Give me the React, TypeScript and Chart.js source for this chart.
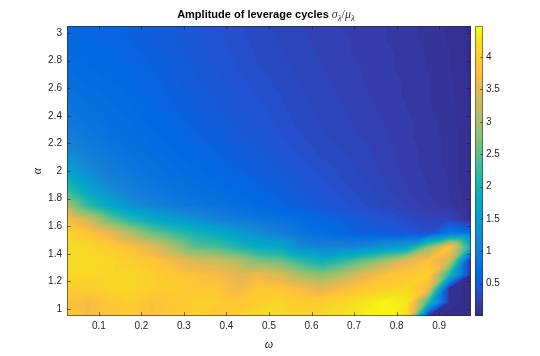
import React, { useEffect, useRef } from "react";
import { Chart, registerables } from "chart.js";
Chart.register(...registerables);

// ω grid (columns)
const OMEGA = [0.025, 0.075, 0.125, 0.175, 0.225, 0.275, 0.325, 0.375, 0.425, 0.475,
  0.525, 0.575, 0.625, 0.675, 0.725, 0.775, 0.825, 0.875, 0.925, 0.975];
// α grid (rows, ascending)
const ALPHA = [0.95, 1.05, 1.15, 1.25, 1.35, 1.45, 1.55, 1.65, 1.75, 1.85, 1.95,
  2.05, 2.15, 2.25, 2.35, 2.45, 2.55, 2.65, 2.75, 2.85, 2.95, 3.05];
// σλ/μλ, one row per α value, one column per ω value
const AMPLITUDE = [
  [3.9, 3.7, 3.8, 3.9, 3.8, 3.9, 4.0, 3.9, 4.0, 4.1, 4.1, 4.0, 4.1, 4.2, 4.35, 4.45, 4.15, 0.05, 0.04, 0.03],
  [3.8, 3.7, 3.9, 4.0, 3.8, 3.9, 4.0, 4.0, 3.9, 4.0, 4.1, 4.0, 4.0, 4.1, 4.3, 4.4, 4.3, 2.2, 0.05, 0.04],
  [3.95, 4.0, 4.1, 4.1, 4.0, 4.0, 3.9, 3.9, 3.6, 3.9, 3.9, 3.7, 3.5, 3.7, 3.9, 4.0, 4.1, 3.65, 0.05, 0.04],
  [4.1, 4.1, 4.1, 4.1, 4.0, 3.9, 3.8, 3.7, 3.5, 3.6, 3.4, 3.0, 2.8, 3.1, 3.5, 3.8, 3.9, 4.0, 2.1, 0.04],
  [4.15, 4.15, 4.1, 4.0, 3.9, 3.7, 3.4, 3.3, 3.1, 2.7, 2.6, 2.2, 1.9, 2.2, 2.6, 3.0, 3.5, 3.8, 3.3, 0.05],
  [4.15, 4.1, 4.0, 3.8, 3.5, 3.0, 2.5, 2.4, 2.1, 1.8, 1.7, 1.2, 1.1, 1.1, 1.2, 1.4, 1.6, 2.8, 3.9, 1.9],
  [4.1, 3.9, 3.6, 3.1, 2.6, 2.3, 2.0, 1.8, 1.5, 1.25, 1.05, 0.8, 0.72, 0.62, 0.55, 0.5, 0.45, 0.4, 0.9, 0.8],
  [3.8, 3.3, 2.6, 2.1, 1.75, 1.5, 1.3, 1.1, 0.95, 0.85, 0.78, 0.7, 0.63, 0.55, 0.48, 0.42, 0.35, 0.28, 0.3, 0.05],
  [3.0, 2.2, 1.7, 1.3, 1.1, 0.95, 0.86, 0.8, 0.74, 0.67, 0.6, 0.54, 0.47, 0.42, 0.36, 0.31, 0.26, 0.2, 0.14, 0.05],
  [2.3, 1.7, 1.3, 1.05, 0.92, 0.83, 0.77, 0.72, 0.67, 0.61, 0.55, 0.49, 0.43, 0.38, 0.33, 0.28, 0.23, 0.18, 0.13, 0.05],
  [1.8, 1.35, 1.08, 0.92, 0.83, 0.76, 0.71, 0.66, 0.61, 0.56, 0.51, 0.45, 0.4, 0.35, 0.31, 0.26, 0.21, 0.17, 0.13, 0.04],
  [1.45, 1.12, 0.95, 0.84, 0.77, 0.71, 0.66, 0.62, 0.57, 0.52, 0.47, 0.42, 0.37, 0.33, 0.29, 0.25, 0.2, 0.16, 0.12, 0.04],
  [1.18, 0.98, 0.86, 0.78, 0.72, 0.67, 0.62, 0.58, 0.53, 0.49, 0.44, 0.39, 0.34, 0.31, 0.28, 0.24, 0.2, 0.16, 0.12, 0.04],
  [1.02, 0.89, 0.8, 0.74, 0.69, 0.64, 0.59, 0.55, 0.5, 0.46, 0.41, 0.36, 0.32, 0.29, 0.26, 0.23, 0.19, 0.15, 0.12, 0.04],
  [0.92, 0.83, 0.76, 0.71, 0.66, 0.61, 0.56, 0.52, 0.48, 0.44, 0.39, 0.34, 0.31, 0.28, 0.25, 0.22, 0.19, 0.15, 0.11, 0.04],
  [0.85, 0.78, 0.73, 0.68, 0.64, 0.59, 0.54, 0.5, 0.46, 0.42, 0.37, 0.33, 0.3, 0.27, 0.24, 0.21, 0.18, 0.14, 0.11, 0.04],
  [0.79, 0.74, 0.7, 0.66, 0.62, 0.57, 0.52, 0.48, 0.44, 0.4, 0.36, 0.32, 0.29, 0.26, 0.23, 0.2, 0.17, 0.14, 0.1, 0.04],
  [0.74, 0.7, 0.67, 0.64, 0.6, 0.55, 0.5, 0.46, 0.42, 0.38, 0.34, 0.31, 0.28, 0.25, 0.22, 0.2, 0.17, 0.14, 0.1, 0.04],
  [0.7, 0.67, 0.65, 0.62, 0.58, 0.53, 0.49, 0.45, 0.4, 0.36, 0.33, 0.3, 0.27, 0.24, 0.22, 0.19, 0.16, 0.13, 0.09, 0.03],
  [0.67, 0.65, 0.63, 0.6, 0.56, 0.52, 0.47, 0.43, 0.39, 0.35, 0.32, 0.29, 0.26, 0.23, 0.21, 0.19, 0.16, 0.13, 0.09, 0.03],
  [0.64, 0.63, 0.61, 0.58, 0.54, 0.5, 0.46, 0.42, 0.38, 0.34, 0.31, 0.28, 0.25, 0.23, 0.21, 0.18, 0.15, 0.12, 0.08, 0.03],
  [0.62, 0.61, 0.59, 0.57, 0.53, 0.49, 0.45, 0.41, 0.37, 0.33, 0.3, 0.27, 0.25, 0.22, 0.2, 0.18, 0.15, 0.12, 0.08, 0.03],
];

const X_TICKS = [0.1, 0.2, 0.3, 0.4, 0.5, 0.6, 0.7, 0.8, 0.9];
const Y_TICKS = [1, 1.2, 1.4, 1.6, 1.8, 2, 2.2, 2.4, 2.6, 2.8, 3];
const CB_TICKS = [0.5, 1, 1.5, 2, 2.5, 3, 3.5, 4];
const C_MIN = 0;
const C_MAX = 4.48;
const N_LEVELS = 100;

// parula colormap stops
const PARULA = [
  [0.2081, 0.1663, 0.5292], [0.2081, 0.2386, 0.6771], [0.1253, 0.3242, 0.8303],
  [0.006, 0.4086, 0.8828], [0.0498, 0.4586, 0.8641], [0.0779, 0.504, 0.8384],
  [0.0641, 0.557, 0.824], [0.0265, 0.6137, 0.8135], [0.0228, 0.6535, 0.7768],
  [0.059, 0.6838, 0.7254], [0.1453, 0.7098, 0.6646], [0.2586, 0.7317, 0.5954],
  [0.3953, 0.7459, 0.5244], [0.53, 0.7491, 0.4661], [0.6473, 0.7456, 0.4188],
  [0.7525, 0.7384, 0.3768], [0.8507, 0.7299, 0.336], [0.945, 0.7261, 0.2886],
  [0.999, 0.7653, 0.2164], [0.9788, 0.8271, 0.1633], [0.9589, 0.8949, 0.1132],
  [0.9763, 0.9831, 0.0538],
];

const SANS = "'Liberation Sans', Helvetica, Arial, sans-serif";
const SERIF = "'Liberation Serif', 'DejaVu Serif', serif";
const TEXT = "#262626";
const AXIS_LINE = "rgba(38,38,38,0.6)";

function colorFor(v: number): [number, number, number] {
  let t = (v - C_MIN) / (C_MAX - C_MIN);
  t = Math.max(0, Math.min(1, t));
  const f = t * (PARULA.length - 1);
  const i = Math.min(PARULA.length - 2, Math.floor(f));
  const u = f - i;
  const a = PARULA[i], b = PARULA[i + 1];
  return [
    Math.round(255 * (a[0] + (b[0] - a[0]) * u)),
    Math.round(255 * (a[1] + (b[1] - a[1]) * u)),
    Math.round(255 * (a[2] + (b[2] - a[2]) * u)),
  ];
}

function locate(arr: number[], v: number): [number, number] {
  if (v <= arr[0]) return [0, 0];
  const n = arr.length;
  if (v >= arr[n - 1]) return [n - 2, 1];
  let i = 0;
  while (i < n - 2 && v > arr[i + 1]) i++;
  return [i, (v - arr[i]) / (arr[i + 1] - arr[i])];
}

// linear interpolation on a triangulated grid (cells split lower-left → upper-right)
function sample(om: number, al: number): number {
  const [j, u] = locate(OMEGA, om);
  const [i, w] = locate(ALPHA, al);
  const z00 = AMPLITUDE[i][j], z01 = AMPLITUDE[i][j + 1];
  const z10 = AMPLITUDE[i + 1][j], z11 = AMPLITUDE[i + 1][j + 1];
  if (u >= w) return z00 + u * (z01 - z00) + w * (z11 - z01);
  return z00 + w * (z10 - z00) + u * (z11 - z10);
}

function levelColor(v: number): [number, number, number] {
  const step = (C_MAX - C_MIN) / N_LEVELS;
  const k = Math.floor((v - C_MIN) / step);
  return colorFor(C_MIN + (k + 0.5) * step);
}

const fmt = (v: number | string) => String(+(+v).toFixed(2));

const heatPlugin = {
  id: "heatmap",
  beforeDatasetsDraw(chart: any) {
    const { ctx, chartArea: a, scales } = chart;
    const xs = scales.x, ys = scales.y;
    const w = Math.round(a.right - a.left);
    const h = Math.round(a.bottom - a.top);
    const off = document.createElement("canvas");
    off.width = w;
    off.height = h;
    const octx = off.getContext("2d")!;
    const img = octx.createImageData(w, h);
    for (let py = 0; py < h; py++) {
      const al = ys.getValueForPixel(a.top + py + 0.5);
      for (let px = 0; px < w; px++) {
        const om = xs.getValueForPixel(a.left + px + 0.5);
        const c = levelColor(sample(om, al));
        const k = (py * w + px) * 4;
        img.data[k] = c[0];
        img.data[k + 1] = c[1];
        img.data[k + 2] = c[2];
        img.data[k + 3] = 255;
      }
    }
    octx.putImageData(img, 0, 0);
    ctx.save();
    ctx.drawImage(off, a.left, a.top, w, h);
    ctx.restore();
  },
  afterDraw(chart: any) {
    const { ctx, chartArea: a, scales } = chart;
    const xs = scales.x, ys = scales.y, cb = scales.cb;
    ctx.save();
    // axes box
    ctx.strokeStyle = AXIS_LINE;
    ctx.lineWidth = 1;
    ctx.strokeRect(a.left + 0.5, a.top + 0.5, a.right - a.left - 1, a.bottom - a.top - 1);
    // inward ticks on all four sides
    const tl = 4;
    ctx.beginPath();
    for (const v of X_TICKS) {
      const x = Math.round(xs.getPixelForValue(v)) + 0.5;
      ctx.moveTo(x, a.bottom);
      ctx.lineTo(x, a.bottom - tl);
      ctx.moveTo(x, a.top);
      ctx.lineTo(x, a.top + tl);
    }
    for (const v of Y_TICKS) {
      const y = Math.round(ys.getPixelForValue(v)) + 0.5;
      ctx.moveTo(a.left, y);
      ctx.lineTo(a.left + tl, y);
      ctx.moveTo(a.right, y);
      ctx.lineTo(a.right - tl, y);
    }
    ctx.stroke();

    // colorbar
    const cx0 = a.right + 4;
    const cw = 8;
    for (let y = Math.round(cb.top); y < Math.round(cb.bottom); y++) {
      const v = cb.getValueForPixel(y + 0.5);
      const c = colorFor(v);
      ctx.fillStyle = `rgb(${c[0]},${c[1]},${c[2]})`;
      ctx.fillRect(cx0, y, cw, 1);
    }
    ctx.strokeStyle = "rgba(38,38,38,0.5)";
    ctx.strokeRect(cx0 + 0.5, cb.top + 0.5, cw - 1, cb.bottom - cb.top - 1);
    ctx.beginPath();
    for (const v of CB_TICKS) {
      const y = Math.round(cb.getPixelForValue(v)) + 0.5;
      ctx.moveTo(cx0 + cw, y);
      ctx.lineTo(cx0 + cw - 3, y);
    }
    ctx.strokeStyle = AXIS_LINE;
    ctx.stroke();

    // title
    ctx.fillStyle = "#000";
    ctx.textBaseline = "alphabetic";
    ctx.textAlign = "left";
    const main = "Amplitude of leverage cycles ";
    ctx.font = `bold 11px ${SANS}`;
    const mw = ctx.measureText(main).width;
    const parts: [string, string, number][] = [
      ["\u03C3", `italic 12px ${SERIF}`, 0],
      ["\u03BB", `italic 9px ${SERIF}`, 3],
      ["/", `12px ${SERIF}`, 0],
      ["\u03BC", `italic 12px ${SERIF}`, 0],
      ["\u03BB", `italic 9px ${SERIF}`, 3],
    ];
    let total = mw;
    for (const [s, f] of parts) {
      ctx.font = f;
      total += ctx.measureText(s).width;
    }
    let x = (a.left + a.right) / 2 - total / 2 - 3;
    const base = 17.5;
    ctx.font = `bold 11px ${SANS}`;
    ctx.fillText(main, x, base);
    x += mw;
    ctx.fillStyle = "#333";
    for (const [s, f, dy] of parts) {
      ctx.font = f;
      ctx.fillText(s, x, base + dy);
      x += ctx.measureText(s).width;
    }

    // axis labels
    ctx.fillStyle = TEXT;
    ctx.textAlign = "center";
    ctx.textBaseline = "middle";
    ctx.font = `italic 12px ${SERIF}`;
    ctx.fillText("\u03C9", (a.left + a.right) / 2, 345);
    ctx.save();
    ctx.translate(38, (a.top + a.bottom) / 2);
    ctx.rotate(-Math.PI / 2);
    ctx.fillText("\u03B1", 0, 0);
    ctx.restore();
    ctx.restore();
  },
};

export default function App() {
  const ref = useRef<HTMLCanvasElement | null>(null);
  useEffect(() => {
    if (!ref.current) return;
    const points = ALPHA.flatMap((al) => OMEGA.map((om) => ({ x: om, y: al })));
    const tickFont = { family: SANS, size: 10 };
    const chart = new Chart(ref.current, {
      type: "scatter",
      data: {
        datasets: [
          {
            label: "amplitude",
            data: points,
            pointRadius: 0,
            pointHoverRadius: 0,
          },
        ],
      },
      options: {
        animation: false,
        responsive: false,
        events: [],
        layout: { padding: { top: 26, left: 0, right: 0, bottom: 0 } },
        plugins: { legend: { display: false }, tooltip: { enabled: false }, title: { display: false } },
        scales: {
          x: {
            type: "linear",
            position: "bottom",
            min: OMEGA[0],
            max: OMEGA[OMEGA.length - 1],
            afterBuildTicks: (s: any) => {
              s.ticks = X_TICKS.map((v) => ({ value: v }));
            },
            afterFit: (s: any) => {
              s.height = 40;
            },
            ticks: { font: tickFont, color: TEXT, padding: 4, maxRotation: 0, autoSkip: false, callback: (v: any) => fmt(v) },
            grid: { display: false, drawTicks: false },
            border: { display: false },
          },
          y: {
            type: "linear",
            position: "left",
            min: ALPHA[0],
            max: ALPHA[ALPHA.length - 1],
            afterBuildTicks: (s: any) => {
              s.ticks = Y_TICKS.map((v) => ({ value: v }));
            },
            afterFit: (s: any) => {
              s.width = 67;
            },
            ticks: { font: tickFont, color: TEXT, padding: 5, autoSkip: false, callback: (v: any) => fmt(v) },
            grid: { display: false, drawTicks: false },
            border: { display: false },
          },
          cb: {
            type: "linear",
            axis: "y",
            position: "right",
            min: C_MIN,
            max: C_MAX,
            afterBuildTicks: (s: any) => {
              s.ticks = CB_TICKS.map((v) => ({ value: v }));
            },
            afterFit: (s: any) => {
              s.width = 69;
            },
            ticks: { font: tickFont, color: TEXT, padding: 15, autoSkip: false, callback: (v: any) => fmt(v) },
            grid: { display: false, drawTicks: false },
            border: { display: false },
          },
        },
      },
      plugins: [heatPlugin],
    } as any);
    return () => chart.destroy();
  }, []);
  return (
    <div style={{ position: "fixed", left: 0, top: 0, width: 540, height: 356, background: "#fff" }}>
      <canvas ref={ref} width={540} height={356} style={{ width: 540, height: 356, display: "block" }} />
    </div>
  );
}
